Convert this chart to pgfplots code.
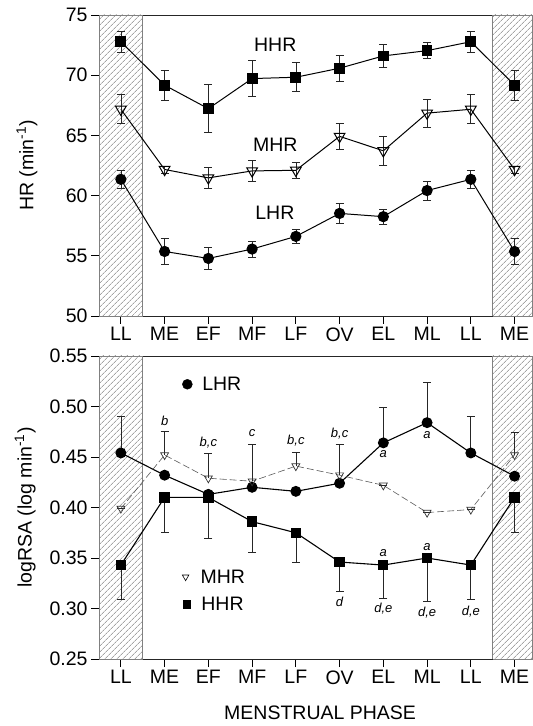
\documentclass[border=0pt]{standalone}
\usepackage{fontspec}
\setmainfont{Liberation Sans}
\usepackage{pgfplots}
\pgfplotsset{compat=1.18}
\usepackage{pgfplotstable}
\usetikzlibrary{patterns.meta}

\pgfplotstableread{
idx HHR eH MHR eM LHR eL
0 72.78 0.90 67.17 1.20 61.35 0.75
1 69.17 1.25 62.17 0.30 55.36 1.10
2 67.22 2.00 61.47 0.90 54.78 0.90
3 69.72 1.50 62.05 0.85 55.56 0.65
4 69.83 1.20 62.10 0.70 56.61 0.55
5 70.58 1.10 64.92 1.10 58.52 0.80
6 71.60 0.95 63.72 1.20 58.25 0.60
7 72.04 0.65 66.85 1.15 60.42 0.80
8 72.78 0.90 67.17 1.20 61.35 0.75
9 69.17 1.25 62.17 0.30 55.36 1.10
}\tophr

% bottom panel: eL = upward bar of LHR, eM = upward bar of MHR, eH = downward bar of HHR
\pgfplotstableread{
idx LHR eL MHR eM HHR eH
0 0.454 0.036 0.399 0.000 0.343 0.034
1 0.432 0.000 0.452 0.023 0.410 0.035
2 0.413 0.000 0.429 0.025 0.410 0.041
3 0.420 0.000 0.426 0.037 0.386 0.030
4 0.416 0.000 0.441 0.014 0.375 0.029
5 0.424 0.000 0.432 0.031 0.346 0.029
6 0.464 0.035 0.422 0.000 0.343 0.033
7 0.484 0.040 0.395 0.000 0.350 0.043
8 0.454 0.036 0.398 0.000 0.343 0.034
9 0.431 0.000 0.452 0.022 0.410 0.035
}\botrsa

\pgfplotsset{
  myaxis/.style={
    set layers=standard,
    mark layer=axis foreground,
    scale only axis, width=433.5pt, xmin=-0.5, xmax=9.41,
    xtick={0,...,9}, xticklabels={LL,ME,EF,MF,LF,OV,EL,ML,LL,ME},
    tick align=outside, xtick pos=left, ytick pos=left,
    major tick length=8pt,
    axis line style={line width=0.8pt, black!85},
    tick style={line width=0.8pt, black},
    tick label style={font=\fontsize{19.5}{22}\selectfont},
    label style={font=\fontsize{19.5}{22}\selectfont},
    /pgf/number format/assume math mode=true,
    clip=false,
  },
  hatch/.style={draw=gray, line width=0.5pt,
    pattern={Lines[angle=45,distance=4pt,line width=0.6pt]}, pattern color=gray!90!black},
  eb/.style={
    /pgfplots/error bars/y explicit,
    /pgfplots/error bars/y dir=#1,
    /pgfplots/error bars/error bar style={line width=0.7pt, black!85, solid},
    /pgfplots/error bars/error mark options={rotate=90, mark size=4pt, line width=0.7pt, black!85, solid}},
}

\newcommand{\sm}{\fontsize{13}{15}\selectfont\itshape}
\newcommand{\bg}{\fontsize{19.5}{22}\selectfont}

\begin{document}
\begin{tikzpicture}
\path (0,0) rectangle (532pt,726pt);

% ---------------- top panel ----------------
\begin{axis}[myaxis, at={(99pt,410pt)}, anchor=south west, height=301pt,
  ymin=50, ymax=75, ytick={50,55,60,65,70,75},
  ylabel={HR (min\textsuperscript{-1})},
  ylabel style={at={(axis description cs:-0.166,0.5)}, anchor=center},
]
\addplot[hatch] coordinates {(-0.5,50) (0.5,50) (0.5,75) (-0.5,75) (-0.5,50)};
\addplot[hatch] coordinates {(8.5,50) (9.41,50) (9.41,75) (8.5,75) (8.5,50)};

\addplot[black, line width=1pt, mark=square*, mark size=4.9pt, eb=both]
  table[x=idx, y=HHR, y error=eH] {\tophr};
\addplot[black, line width=1pt, mark=triangle, mark size=6.2pt, eb=both,
  mark options={rotate=180, fill=white, line width=1pt}]
  table[x=idx, y=MHR, y error=eM] {\tophr};
\addplot[black, line width=1pt, mark=*, mark size=5.1pt, eb=both]
  table[x=idx, y=LHR, y error=eL] {\tophr};

\node[font=\bg] at (axis cs:3.53,72.5) {HHR};
\node[font=\bg] at (axis cs:3.53,64.2) {MHR};
\node[font=\bg] at (axis cs:3.52,58.6) {LHR};
\end{axis}

% ---------------- bottom panel ----------------
\begin{axis}[myaxis, at={(99pt,67pt)}, anchor=south west, height=303pt,
  ymin=0.25, ymax=0.55, ytick={0.25,0.3,0.35,0.4,0.45,0.5,0.55},
  yticklabel style={/pgf/number format/.cd, fixed, fixed zerofill, precision=2},
  ylabel={logRSA (log min\textsuperscript{-1})},
  ylabel style={at={(axis description cs:-0.17,0.5)}, anchor=center},
  xlabel={MENSTRUAL PHASE},
  xlabel style={at={(axis description cs:0.51,-0.178)}, anchor=center},
]
\addplot[hatch] coordinates {(-0.5,0.25) (0.5,0.25) (0.5,0.55) (-0.5,0.55) (-0.5,0.25)};
\addplot[hatch] coordinates {(8.5,0.25) (9.41,0.25) (9.41,0.55) (8.5,0.55) (8.5,0.25)};

\addplot[black, line width=1.1pt, mark=*, mark size=4.9pt, eb=plus]
  table[x=idx, y=LHR, y error=eL] {\botrsa};
\addplot[black, line width=1.1pt, mark=square*, mark size=4.6pt, eb=minus]
  table[x=idx, y=HHR, y error=eH] {\botrsa};
\addplot[black!65, line width=0.6pt, dash pattern=on 7pt off 3pt, mark=triangle, mark size=4.6pt, eb=plus,
  mark options={rotate=180, fill=white, solid, black!80, line width=0.7pt}]
  table[x=idx, y=MHR, y error=eM] {\botrsa};

% legend
\addplot[black, only marks, mark=*, mark size=5pt, forget plot] coordinates {(1.52,0.522)};
\node[font=\bg, anchor=west] at (axis cs:1.78,0.522) {LHR};
\addplot[black, only marks, mark=triangle, mark size=3.8pt, mark options={rotate=180, fill=white, line width=0.6pt}, forget plot] coordinates {(1.48,0.3313)};
\node[font=\bg, anchor=west] at (axis cs:1.74,0.3313) {MHR};
\addplot[black, only marks, mark=square*, mark size=3.6pt, forget plot] coordinates {(1.50,0.3042)};
\node[font=\bg, anchor=west] at (axis cs:1.76,0.3042) {HHR};

% significance letters
\node[font=\sm] at (axis cs:1,0.486) {b};
\node[font=\sm] at (axis cs:2,0.4644) {b,c};
\node[font=\sm] at (axis cs:3,0.4737) {c};
\node[font=\sm] at (axis cs:4,0.466) {b,c};
\node[font=\sm] at (axis cs:5,0.4727) {b,c};
\node[font=\sm] at (axis cs:6,0.4526) {a};
\node[font=\sm] at (axis cs:7,0.4717) {a};
\node[font=\sm] at (axis cs:6,0.3553) {a};
\node[font=\sm] at (axis cs:7,0.3608) {a};
\node[font=\sm] at (axis cs:5,0.3068) {d};
\node[font=\sm] at (axis cs:6,0.2994) {d,e};
\node[font=\sm] at (axis cs:7,0.2961) {d,e};
\node[font=\sm] at (axis cs:8,0.2971) {d,e};
\end{axis}
\end{tikzpicture}
\end{document}
